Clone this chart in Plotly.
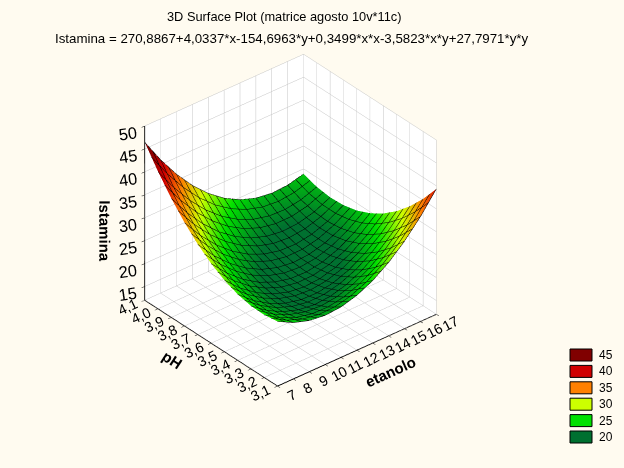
import plotly.graph_objects as go

W, H = 624, 468

etanolo = [7, 8, 9, 10, 11, 12, 13, 14, 15, 16, 17]
ph = [3.1, 3.2, 3.3, 3.4, 3.5, 3.6, 3.7, 3.8, 3.9, 4.0, 4.1]
ph_labels = ["3,1", "3,2", "3,3", "3,4", "3,5", "3,6", "3,7", "3,8", "3,9", "4,0", "4,1"]
z_ticks = [15, 20, 25, 30, 35, 40, 45, 50]

# one row per pH, one column per etanolo
istamina = [
    [26.10, 24.28, 23.16, 22.73, 23.01, 23.99, 25.66, 28.04, 31.11, 34.89, 39.37],
    [25.64, 23.46, 21.98, 21.20, 21.11, 21.73, 23.05, 25.07, 27.79, 31.20, 35.32],
    [25.73, 23.19, 21.35, 20.21, 19.77, 20.03, 20.99, 22.65, 25.01, 28.07, 31.83],
    [26.38, 23.48, 21.28, 19.78, 18.99, 18.89, 19.49, 20.79, 22.79, 25.49, 28.89],
    [27.58, 24.32, 21.77, 19.91, 18.75, 18.30, 18.54, 19.48, 21.13, 23.47, 26.51],
    [29.34, 25.72, 22.81, 20.59, 19.08, 18.27, 18.15, 18.73, 20.02, 22.00, 24.69],
    [31.65, 27.68, 24.41, 21.84, 19.96, 18.79, 18.32, 18.54, 19.47, 21.09, 23.42],
    [34.52, 30.19, 26.56, 23.63, 21.40, 19.87, 19.04, 18.91, 19.47, 20.74, 22.71],
    [37.95, 33.26, 29.27, 25.98, 23.39, 21.50, 20.31, 19.82, 20.03, 20.94, 22.55],
    [41.93, 36.89, 32.54, 28.89, 25.94, 23.70, 22.15, 21.30, 21.15, 21.70, 22.95],
    [46.47, 41.07, 36.36, 32.35, 29.05, 26.44, 24.54, 23.33, 22.82, 23.02, 23.91],
]

legend_levels = [45, 40, 35, 30, 25, 20]
legend_colors = ["#800000", "#d00000", "#ff8000", "#ccff00", "#00e000", "#007030"]

BG = "#fffbf0"
FONT = "Liberation Sans"

# colours run from the lowest level to the highest
scale = [[i / 5, c] for i, c in enumerate(reversed(legend_colors))]

fig = go.Figure()
fig.add_trace(go.Surface(
    x=etanolo, y=ph, z=istamina,
    cmin=20, cmax=45, colorscale=scale, showscale=False,
    lighting=dict(ambient=1, diffuse=0, specular=0, fresnel=0),
    contours=dict(
        x=dict(show=True, start=7, end=17, size=0.5, color="black", width=1),
        y=dict(show=True, start=3.1, end=4.1, size=0.05, color="black", width=1),
    ),
))


def axis(title, tick_size, **kw):
    return dict(
        title=dict(text="<b>" + title + "</b>", font=dict(family=FONT, size=15, color="black")),
        showbackground=True, backgroundcolor="white",
        gridcolor="#c4c4c4", gridwidth=1, zeroline=False,
        showline=True, linecolor="black", linewidth=2,
        ticks="outside", ticklen=4, tickcolor="black",
        tickfont=dict(family=FONT, size=tick_size, color="black"),
        showspikes=False, **kw,
    )


fig.update_layout(
    width=W, height=H,
    margin=dict(l=0, r=0, t=0, b=0),
    paper_bgcolor=BG,
    showlegend=False,
    scene=dict(
        bgcolor=BG,
        domain=dict(x=[0, 1], y=[0, 1]),
        xaxis=axis("etanolo", 13, range=[7, 17], tickvals=etanolo, tickangle=-28),
        yaxis=axis("pH", 13, range=[3.1, 4.1], tickvals=ph, ticktext=ph_labels, tickangle=-25),
        zaxis=axis("Istamina", 14, range=[12, 50], tickvals=z_ticks, tickangle=-8),
        aspectmode="manual",
        aspectratio=dict(x=0.885, y=0.885, z=0.885),
        camera=dict(
            eye=dict(x=-1.45, y=-1.877, z=1.452),
            center=dict(x=0.071, y=-0.058, z=-0.071),
            up=dict(x=0, y=0, z=1),
            projection=dict(type="orthographic"),
        ),
    ),
)

fig.add_annotation(text="3D Surface Plot (matrice agosto 10v*11c)", x=284 / W, y=1 - 17 / H,
                   xref="paper", yref="paper", yanchor="middle", showarrow=False,
                   font=dict(family=FONT, size=12.8, color="black"))
fig.add_annotation(text="Istamina = 270,8867+4,0337*x-154,6963*y+0,3499*x*x-3,5823*x*y+27,7971*y*y",
                   x=291 / W, y=1 - 38 / H,
                   xref="paper", yref="paper", yanchor="middle", showarrow=False,
                   font=dict(family=FONT, size=13.3, color="black"))

# legend swatches on the right
for i, (lev, col) in enumerate(zip(legend_levels, legend_colors)):
    top = 349 + i * 16.4
    fig.add_shape(type="rect", xref="paper", yref="paper",
                  x0=570 / W, x1=592 / W, y0=1 - top / H, y1=1 - (top + 12) / H,
                  fillcolor=col, line=dict(color="black", width=1))
    fig.add_annotation(text=str(lev), x=597 / W, y=1 - (top + 6) / H, xref="paper", yref="paper",
                       xanchor="left", yanchor="middle", showarrow=False,
                       font=dict(family=FONT, size=12, color="black"))

# drop the page's default margin so the figure fills the window
fig.write_html("out.html", config=dict(displayModeBar=False),
               post_script="document.body.style.margin='0';document.body.style.background='%s';" % BG)
